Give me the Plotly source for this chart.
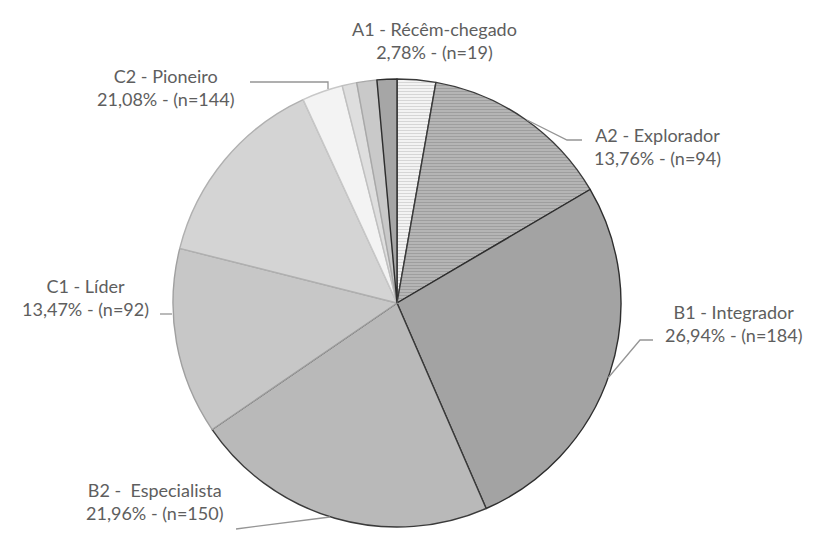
import plotly.graph_objects as go

# Data (C2 - Pioneiro is drawn as its main slice plus small sub-slices, as in the reference)
slice_names = ["A1 - Récêm-chegado", "A2 - Explorador", "B1 - Integrador", "B2 -  Especialista",
               "C1 - Líder", "C2 - Pioneiro", "C2 (a)", "C2 (b)", "C2 (c)", "C2 (d)"]
slice_values = [2.78, 13.76, 26.94, 21.96, 13.47, 14.20, 2.95, 1.05, 1.45, 1.43]
slice_colors = ["#f7f7f7", "#b3b3b3", "#a3a3a3", "#b9b9b9", "#c7c7c7",
                "#d4d4d4", "#f3f3f3", "#dedede", "#c9c9c9", "#a6a6a6"]
line_colors = ["#3a3a3a", "#3a3a3a", "#2e2e2e", "#3a3a3a", "#a0a0a0",
               "#b0b0b0", "#c8c8c8", "#c0c0c0", "#a8a8a8", "#2e2e2e"]
pattern_shapes = ["-", "-", "", "", "", "", "", "", "", ""]
pattern_fg = ["#d6d6d6", "#9e9e9e", "#a3a3a3", "#b9b9b9", "#c7c7c7",
              "#d4d4d4", "#f3f3f3", "#dedede", "#c9c9c9", "#a6a6a6"]
pattern_bg = ["#f9f9f9", "#bababa", "#a3a3a3", "#b9b9b9", "#c7c7c7",
              "#d4d4d4", "#f3f3f3", "#dedede", "#c9c9c9", "#a6a6a6"]

label_texts = ["A1 - Récêm-chegado<br>2,78% - (n=19)",
               "A2 - Explorador<br>13,76% - (n=94)",
               "B1 - Integrador<br>26,94% - (n=184)",
               "B2 -  Especialista<br>21,96% - (n=150)",
               "C1 - Líder<br>13,47% - (n=92)",
               "C2 - Pioneiro<br>21,08% - (n=144)"]

W, H = 815, 535
cx, cy, r = 397, 303, 224

fig = go.Figure(go.Pie(
    labels=slice_names, values=slice_values, sort=False, direction="clockwise", rotation=0,
    textinfo="none", hoverinfo="label+value",
    marker=dict(colors=slice_colors, line=dict(color=line_colors, width=1.4),
                pattern=dict(shape=pattern_shapes, fgcolor=pattern_fg, bgcolor=pattern_bg,
                             size=3, solidity=0.45)),
    domain=dict(x=[(cx - r) / W, (cx + r) / W], y=[(H - cy - r) / H, (H - cy + r) / H]),
    showlegend=False,
))

def px(x, y):
    return x / W, 1 - y / H

label_pos = [(434, 40), (657, 147), (733, 323), (154, 501), (85, 297), (165, 88)]
ann = []
for t, (x, y) in zip(label_texts, label_pos):
    xx, yy = px(x, y)
    ann.append(dict(x=xx, y=yy, xref="paper", yref="paper", text=t, showarrow=False,
                    align="center", xanchor="center", yanchor="middle",
                    font=dict(family="Lato", size=18, color="#5e5e5e")))

leaders = [
    [(250, 82), (328, 82), (328, 89)],
    [(527, 120), (567, 140), (582, 140)],
    [(608, 378), (640, 340), (653, 340)],
    [(160, 314), (172, 314)],
    [(236, 529), (330, 517)],
]
shapes = []
for pts in leaders:
    path = "M " + " L ".join(f"{px(x, y)[0]:.5f},{px(x, y)[1]:.5f}" for x, y in pts)
    shapes.append(dict(type="path", xref="paper", yref="paper", path=path,
                       line=dict(color="#959595", width=1.3)))

fig.update_layout(width=W, height=H, margin=dict(l=0, r=0, t=0, b=0),
                  paper_bgcolor="white", plot_bgcolor="white",
                  annotations=ann, shapes=shapes)
fig.write_html("out.html")
